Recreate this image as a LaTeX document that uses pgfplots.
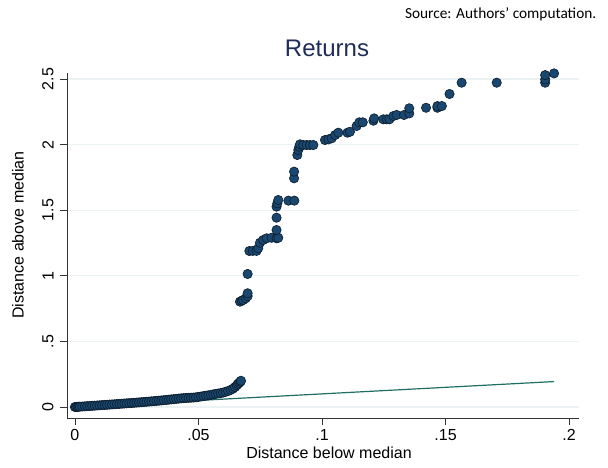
\documentclass[border=0pt]{standalone}
\usepackage{fontspec}
\setmainfont{Liberation Sans}
\newfontfamily\carlito{Carlito}
\usepackage{pgfplots}
\pgfplotsset{compat=1.18}
\definecolor{mk}{HTML}{1A476F}
\definecolor{mkedge}{HTML}{0B1C2B}
\definecolor{refl}{HTML}{1F6E63}
\definecolor{gridc}{HTML}{EAF2F3}
\definecolor{titlec}{HTML}{1E2D5A}
\definecolor{axc}{HTML}{333333}
\begin{document}
\begin{tikzpicture}[x=0.75pt,y=0.75pt]
\path (0,0) rectangle (608,468);
\begin{axis}[
  at={(50.25pt,37.5pt)}, anchor=south west,
  scale only axis, width=384pt, height=258.75pt,
  xmin=-0.0032, xmax=0.2040, ymin=-0.0838, ymax=2.546,
  axis lines=left, axis line style={-, color=axc, line width=0.6pt},
  clip=false,
  xtick={0,0.05,0.1,0.15,0.2}, xticklabels={0,.05,.1,.15,.2},
  ytick={0,0.5,1,1.5,2,2.5}, yticklabels={0,.5,1,1.5,2,2.5},
  tick align=outside, major tick length=5pt,
  tick style={color=axc, line width=0.6pt},
  ticklabel style={font=\fontsize{12}{14}\selectfont},
  yticklabel style={rotate=90, anchor=south},
  yticklabel shift=1.5pt,
  ymajorgrids, xmajorgrids=false,
  grid style={gridc, line width=0.8pt},
]
\addplot[only marks, mark=*, mark size=3.5pt, mark options={fill=mk, draw=mkedge, line width=0.45pt}] table {
x y
0 0
0.0005 0.0006
0.001 0.0012
0.0015 0.002
0.002 0.0026
0.003 0.0038
0.004 0.005
0.005 0.0064
0.006 0.0077
0.007 0.009
0.008 0.0103
0.009 0.0116
0.010 0.013
0.011 0.0143
0.012 0.0157
0.013 0.017
0.014 0.0184
0.015 0.0197
0.016 0.021
0.017 0.0224
0.018 0.0238
0.019 0.0252
0.020 0.0266
0.021 0.028
0.022 0.0294
0.023 0.0308
0.024 0.0322
0.025 0.0337
0.026 0.0352
0.027 0.0367
0.028 0.0382
0.029 0.0398
0.030 0.0414
0.031 0.043
0.032 0.0447
0.033 0.0465
0.034 0.0483
0.035 0.050
0.036 0.052
0.037 0.054
0.038 0.056
0.039 0.058
0.040 0.060
0.041 0.062
0.042 0.064
0.043 0.066
0.044 0.0675
0.045 0.069
0.046 0.070
0.047 0.071
0.048 0.072
0.049 0.074
0.050 0.077
0.051 0.080
0.052 0.083
0.053 0.086
0.054 0.089
0.055 0.092
0.056 0.096
0.057 0.100
0.058 0.103
0.059 0.106
0.060 0.110
0.061 0.116
0.062 0.122
0.063 0.130
0.064 0.140
0.0648 0.152
0.0655 0.165
0.066 0.176
0.0665 0.185
0.067 0.193
0.0672 0.200
0.0668 0.803
0.0675 0.810
0.0681 0.816
0.0691 0.828
0.0699 0.845
0.0699 0.867
0.0699 1.014
0.0706 1.189
0.0720 1.190
0.0735 1.190
0.0742 1.210
0.0749 1.252
0.0762 1.273
0.0776 1.286
0.0796 1.290
0.0816 1.286
0.0823 1.290
0.0816 1.349
0.0816 1.443
0.0816 1.527
0.0819 1.552
0.0823 1.578
0.0864 1.573
0.0888 1.573
0.0887 1.743
0.0887 1.794
0.0900 1.921
0.0904 1.959
0.0908 1.984
0.0911 2.002
0.0924 1.997
0.0938 1.997
0.0951 1.997
0.0965 1.997
0.1012 2.035
0.1026 2.040
0.1039 2.048
0.1053 2.073
0.1066 2.091
0.1103 2.091
0.1113 2.098
0.1140 2.142
0.1151 2.170
0.1165 2.170
0.1208 2.182
0.1211 2.200
0.1248 2.193
0.1262 2.193
0.1273 2.193
0.1289 2.218
0.1302 2.226
0.1332 2.226
0.1353 2.238
0.1353 2.277
0.1421 2.281
0.1467 2.281
0.1467 2.294
0.1485 2.294
0.1516 2.386
0.1565 2.472
0.1707 2.472
0.1903 2.472
0.1903 2.497
0.1903 2.530
0.1939 2.543
};
\addplot[refl, line width=0.9pt, no marks] coordinates {(0,0) (0.1939,0.1939)};
\end{axis}
\node[font=\fontsize{12}{14}\selectfont] at (329,15) {Distance below median};
\node[rotate=90, font=\fontsize{12}{14}\selectfont] at (18,233) {Distance above median};
\node[text=titlec, font=\fontsize{18}{20}\selectfont] at (327,420) {Returns};
\node[anchor=east, font=\carlito\fontsize{11.5}{13}\selectfont] at (601,454) {Source: Authors’ computation.};
\end{tikzpicture}
\end{document}
